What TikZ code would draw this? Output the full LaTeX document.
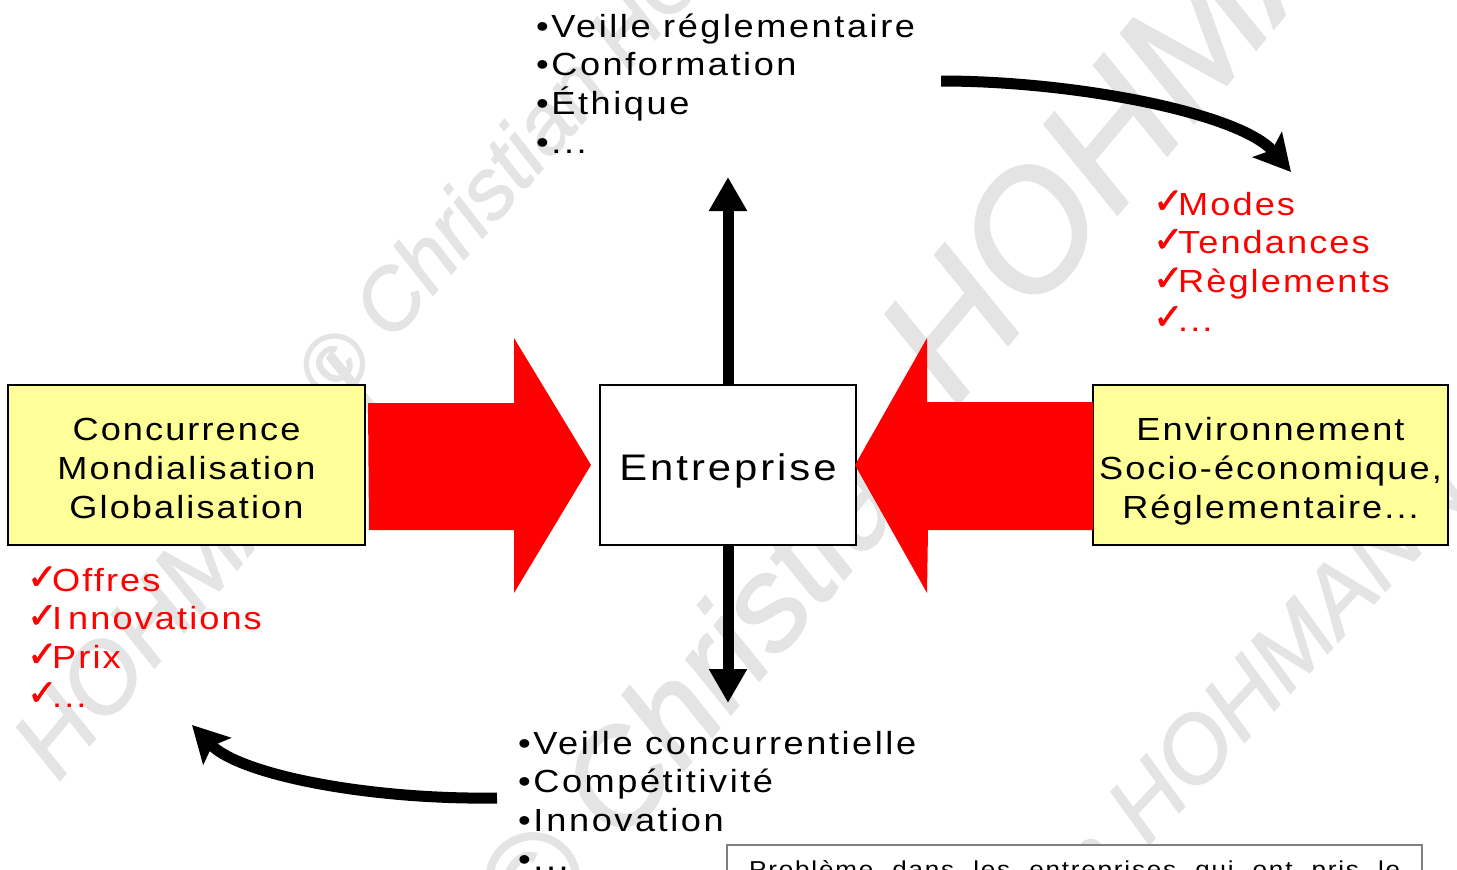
\documentclass[tikz,border=0pt]{standalone}
\usepackage{fontspec}
\setmainfont{Liberation Sans}[FakeStretch=1.13,LetterSpace=8]
\newfontfamily\tightf{Liberation Sans}[FakeStretch=1.13,LetterSpace=6.5]
\newfontfamily\wmf{Liberation Sans}[ItalicFeatures={FakeBold=1.5}]
\newfontfamily\ckf{DejaVu Sans}[FakeBold=1.5]
\usetikzlibrary{arrows.meta}
\definecolor{wmgrey}{HTML}{E4E4E4}
\definecolor{paleyellow}{HTML}{FFFF99}
\definecolor{framegrey}{HTML}{808080}
\newcommand{\ck}{\makebox[25pt][l]{\smash{\raisebox{2pt}{\ckf\fontsize{36}{36}\selectfont ✓}}}}
\newcommand{\bl}{•}
\newcommand{\lowered}[2]{\raisebox{-#1}[0pt][0pt]{\begin{tabular}{@{}c@{}}#2\end{tabular}}}
\tikzset{
  wm/.style={text=wmgrey,inner sep=0,anchor=base west},
  listtext/.style={inner sep=0,anchor=base west,align=left,font=\fontsize{32}{38.6}\selectfont},
  boxtext/.style={draw=black,line width=2pt,minimum height=160pt,inner sep=0,align=center,font=\tightf\fontsize{32}{38.7}\selectfont},
  yellowbox/.style={boxtext,fill=paleyellow,minimum width=357pt},
  redlist/.style={listtext,text=red,font=\tightf\fontsize{32}{38.6}\selectfont},
  bigarrow/.style={fill=red,draw=none},
  straightarrow/.style={line width=11pt,-{Triangle[length=34pt,width=36pt]}},
  curvedarrow/.style={line width=11pt,-{Stealth[length=36pt,width=38pt,inset=7pt]}}
}
\begin{document}
\begin{tikzpicture}[x=1pt,y=-1pt]
\clip (0,0) rectangle (1457,870);
\fill[white] (0,0) rectangle (1457,870);
% watermarks
\node[wm,rotate=49,font=\wmf\itshape\fontsize{85}{85}\selectfont] (w1) at (335,408) {© Christian HOHMANN};
\node[wm,rotate=50,font=\wmf\itshape\fontsize{132}{132}\selectfont] (w2) at (535,948) {© Christian};
\node[wm,rotate=50,font=\wmf\itshape\fontsize{165}{165}\selectfont] (w2b) at (955,408) {HOHMANN};
\node[wm,rotate=47,font=\wmf\itshape\fontsize{93}{93}\selectfont] (w3) at (815,1203) {© Christian HOHMANN};
\node[wm,rotate=50,font=\wmf\itshape\fontsize{98}{98}\selectfont] (w4) at (58,783) {HOHMANN};
% boxes
\node[yellowbox] (left) at (186.5,465) {\lowered{13pt}{Concurrence\\Mondialisation\\Globalisation}};
\node[yellowbox,minimum width=355pt] (right) at (1270.5,465) {\lowered{13pt}{Environnement\\Socio-économique,\\Réglementaire...}};
\node[boxtext,fill=white,minimum width=256pt,font=\fontsize{37}{40}\selectfont] (centre) at (728,465) {\lowered{14pt}{Entreprise}};
% block arrows
\fill[bigarrow] ([shift={(2,-62)}]left.east) -- ++(146,0) -- ++(0,-65) -- ([xshift=-8pt]centre.west)
  -- ([shift={(-85,128)}]centre.west) -- ++(0,-63) -- ([shift={(3,65)}]left.east) -- cycle;
\fill[bigarrow] ([shift={(1,-63)}]right.west) -- ++(-166,0) -- ++(0,-64) -- ([xshift=-2pt]centre.east)
  -- ([shift={(70,128)}]centre.east) -- ++(1,-63) -- ([shift={(1,65)}]right.west) -- cycle;
% lists
\node[listtext] (top) at (536,153) {\bl Veille réglementaire\\\bl Conformation\\\bl Éthique\\\bl ...};
\node[listtext] (bottom) at (518,870) {\bl Veille concurrentielle\\\bl Compétitivité\\\bl I\kern3pt nnovation\\\bl ...};
\node[redlist] (rl) at (1153,331) {\ck Modes\\\ck Tendances\\\ck Règlements\\\ck ...};
\node[redlist] (ll) at (27,707) {\ck Offres\\\ck I\kern6pt nnovations\\\ck Prix\\\ck ...};
% black arrows
\coordinate (uptip) at (728,177);
\coordinate (downtip) at (728,703);
\draw[straightarrow] (centre.north) -- (uptip);
\draw[straightarrow] (centre.south) -- (downtip);
\coordinate (ts) at (941,81);
\coordinate (te) at (1291,172);
\coordinate (bs) at (497,798);
\coordinate (be) at (192,725);
\draw[curvedarrow] (ts) .. controls (1075,81) and (1240,113) .. (te);
\draw[curvedarrow] (bs) .. controls (370,800) and (240,775) .. (be);
% note box, cut by the picture's edge
\node[draw=framegrey,line width=2pt,fill=white,anchor=north west,minimum width=695pt,minimum height=60pt,inner sep=0] (note) at (726,844) {};
\node[inner sep=0,anchor=base west,font=\fontsize{23}{23}\selectfont] (notetext) at (749,877.5) {\makebox[651pt][s]{Problème dans les entreprises qui ont pris le}};
\end{tikzpicture}
\end{document}
